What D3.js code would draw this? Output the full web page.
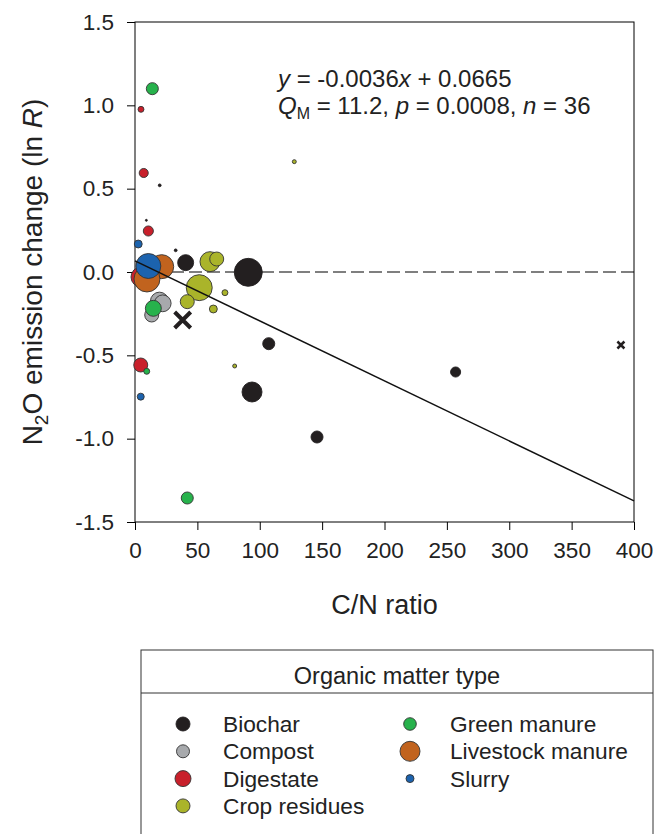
<!DOCTYPE html>
<html>
<head>
<meta charset="utf-8">
<script src="https://cdn.jsdelivr.net/npm/d3@7"></script>
<style>
  html, body { margin: 0; padding: 0; background: #fff; }
  svg { display: block; font-family: "Liberation Sans", Arial, sans-serif; }
</style>
</head>
<body>
<svg id="chart" width="656" height="834"></svg>
<script>
// categories and colours
const categories = ["Biochar", "Compost", "Digestate", "Crop residues", "Green manure", "Livestock manure", "Slurry"];
const colors = ["#231f20", "#a7a9ac", "#c8202b", "#aab42a", "#27b24c", "#c1631e", "#1c63ae"];

// each point: [C/N ratio, lnR, weight]
const biochar = [[32.6, 0.13, 2], [19.8, 0.52, 2], [9.1, 0.31, 1], [40.6, 0.056, 65], [90.8, -0.002, 200],
                 [107.2, -0.43, 37], [93.8, -0.72, 102], [145.9, -0.99, 37], [257, -0.60, 26]];
const compost = [[19.6, -0.175, 83], [22.2, -0.188, 72], [13.4, -0.258, 50]];
const digestate = [[4.8, -0.03, 102], [10.7, 0.246, 26], [4.8, 0.976, 9], [7.0, 0.594, 21], [4.6, -0.558, 50]];
const cropResidues = [[60.1, 0.062, 102], [65.5, 0.078, 50], [51.5, -0.094, 172], [72.1, -0.124, 9],
                      [41.9, -0.178, 50], [62.8, -0.222, 16], [79.9, -0.564, 4], [127.7, 0.662, 4]];
const greenManure = [[13.9, 1.10, 37], [14.7, -0.218, 65], [9.4, -0.596, 9], [41.9, -1.356, 37]];
const livestockManure = [[21.4, 0.032, 147], [9.6, -0.042, 172]];
const slurry = [[2.6, 0.168, 16], [10.7, 0.036, 159], [4.6, -0.748, 12.5]];
const seriesList = [biochar, compost, digestate, cropResidues, greenManure, livestockManure, slurry];

// excluded points drawn as crosses: [C/N ratio, lnR, size]
const excluded = [[38.2, -0.288, 16], [389.5, -0.438, 7]];

// regression
const slope = -0.0036;
const intercept = 0.0665;

const xTicks = [0, 50, 100, 150, 200, 250, 300, 350, 400];
const yTicks = [-1.5, -1.0, -0.5, 0.0, 0.5, 1.0, 1.5];

const margin = { top: 22, left: 135 };
const innerwidth = 499;
const innerheight = 500;

let svg = d3.select('#chart');

let xScale = d3.scaleLinear().domain([0, 400]).range([0, innerwidth]);
let yScale = d3.scaleLinear().domain([-1.5, 1.5]).range([innerheight, 0]);
let rScale = d3.scaleSqrt().domain([0, 200]).range([0, 14]);

let canvas = svg.append('g')
    .attr('transform', `translate(${margin.left},${margin.top})`);

// frame
canvas.append('rect')
    .attr('width', innerwidth)
    .attr('height', innerheight)
    .attr('fill', 'none')
    .attr('stroke', '#000')
    .attr('stroke-width', 1);

// axes (plain hyphen for the minus sign, as in the original)
let xAxis = d3.axisBottom(xScale).tickValues(xTicks).tickSize(8).tickPadding(12).tickFormat(d3.format('d'));
let yAxis = d3.axisLeft(yScale).tickValues(yTicks).tickSize(8).tickPadding(13)
    .tickFormat(d => d3.format('.1f')(d).replace('\u2212', '-'));

let xAxisGroup = canvas.append('g')
    .attr('transform', `translate(0,${innerheight})`)
    .call(xAxis);
let yAxisGroup = canvas.append('g')
    .call(yAxis);

[xAxisGroup, yAxisGroup].forEach(g => {
    g.select('.domain').remove();
    g.selectAll('.tick line').attr('stroke', '#000');
    g.selectAll('.tick text')
        .attr('font-size', '22.5px')
        .attr('font-family', '"Liberation Sans", Arial, sans-serif')
        .attr('fill', '#222');
});

// zero line
canvas.append('line')
    .attr('x1', xScale(0)).attr('x2', xScale(400))
    .attr('y1', yScale(0)).attr('y2', yScale(0))
    .attr('stroke', '#000')
    .attr('stroke-width', 1.2)
    .attr('stroke-dasharray', '13,5');

// bubbles
seriesList.forEach((points, i) => {
    canvas.selectAll(`.pt${i}`)
        .data(points)
        .enter()
        .append('circle')
        .attr('class', `pt${i}`)
        .attr('cx', d => xScale(d[0]))
        .attr('cy', d => yScale(d[1]))
        .attr('r', d => rScale(d[2]))
        .attr('fill', colors[i])
        .attr('stroke', i === 0 ? colors[i] : '#333')
        .attr('stroke-width', 0.9);
});

// regression line
canvas.append('line')
    .attr('x1', xScale(0)).attr('y1', yScale(intercept))
    .attr('x2', xScale(400)).attr('y2', yScale(slope * 400 + intercept))
    .attr('stroke', '#111')
    .attr('stroke-width', 1.5);

// excluded crosses
excluded.forEach(d => {
    let cx = xScale(d[0]), cy = yScale(d[1]), h = d[2] / 2;
    canvas.append('path')
        .attr('d', `M${cx - h},${cy - h}L${cx + h},${cy + h}M${cx - h},${cy + h}L${cx + h},${cy - h}`)
        .attr('stroke', '#231f20')
        .attr('stroke-width', d[2] > 10 ? 4 : 2.5)
        .attr('fill', 'none');
});

// equation text
let eq = canvas.append('g')
    .attr('font-size', '24px')
    .attr('fill', '#222');
let l1 = eq.append('text').attr('x', 143).attr('y', 65);
l1.append('tspan').attr('font-style', 'italic').text('y');
l1.append('tspan').text(' = -0.0036');
l1.append('tspan').attr('font-style', 'italic').text('x');
l1.append('tspan').text(' + 0.0665');
let l2 = eq.append('text').attr('x', 143).attr('y', 92);
l2.append('tspan').attr('font-style', 'italic').text('Q');
l2.append('tspan').attr('font-size', '16px').attr('dy', 5).text('M');
l2.append('tspan').attr('dy', -5).text(' = 11.2, ');
l2.append('tspan').attr('font-style', 'italic').text('p');
l2.append('tspan').text(' = 0.0008, ');
l2.append('tspan').attr('font-style', 'italic').text('n');
l2.append('tspan').text(' = 36');

// axis titles
canvas.append('text')
    .attr('x', innerwidth / 2)
    .attr('y', innerheight + 92)
    .attr('text-anchor', 'middle')
    .attr('font-size', '27px')
    .attr('fill', '#222')
    .text('C/N ratio');

let yl = canvas.append('text')
    .attr('transform', `translate(${-93},${innerheight / 2}) rotate(-90)`)
    .attr('text-anchor', 'middle')
    .attr('font-size', '28px')
    .attr('fill', '#222');
yl.append('tspan').text('N');
yl.append('tspan').attr('font-size', '19px').attr('dy', 6).text('2');
yl.append('tspan').attr('dy', -6).text('O emission change (ln ');
yl.append('tspan').attr('font-style', 'italic').text('R');
yl.append('tspan').text(')');

// legend
let legend = svg.append('g');
legend.append('rect')
    .attr('x', 141).attr('y', 650)
    .attr('width', 512).attr('height', 220)
    .attr('fill', 'none')
    .attr('stroke', '#333')
    .attr('stroke-width', 1);
legend.append('line')
    .attr('x1', 141).attr('x2', 653)
    .attr('y1', 693).attr('y2', 693)
    .attr('stroke', '#333');
legend.append('text')
    .attr('x', 397).attr('y', 684)
    .attr('text-anchor', 'middle')
    .attr('font-size', '23.5px')
    .attr('fill', '#222')
    .text('Organic matter type');

const legendR = [7, 6.5, 8, 7, 6.3, 10, 4];
let items = legend.selectAll('.item')
    .data(categories)
    .enter()
    .append('g')
    .attr('class', 'item')
    .attr('transform', (d, i) => {
        let col = i < 4 ? 0 : 1;
        let row = i < 4 ? i : i - 4;
        return `translate(${col ? 410 : 183},${724 + row * 27.3})`;
    });
items.append('circle')
    .attr('r', (d, i) => legendR[i])
    .attr('fill', (d, i) => colors[i])
    .attr('stroke', (d, i) => i === 0 ? colors[i] : '#333')
    .attr('stroke-width', 0.9);
items.append('text')
    .attr('x', 40)
    .attr('y', 8)
    .attr('font-size', '22.7px')
    .attr('fill', '#222')
    .text(d => d);
</script>
</body>
</html>
